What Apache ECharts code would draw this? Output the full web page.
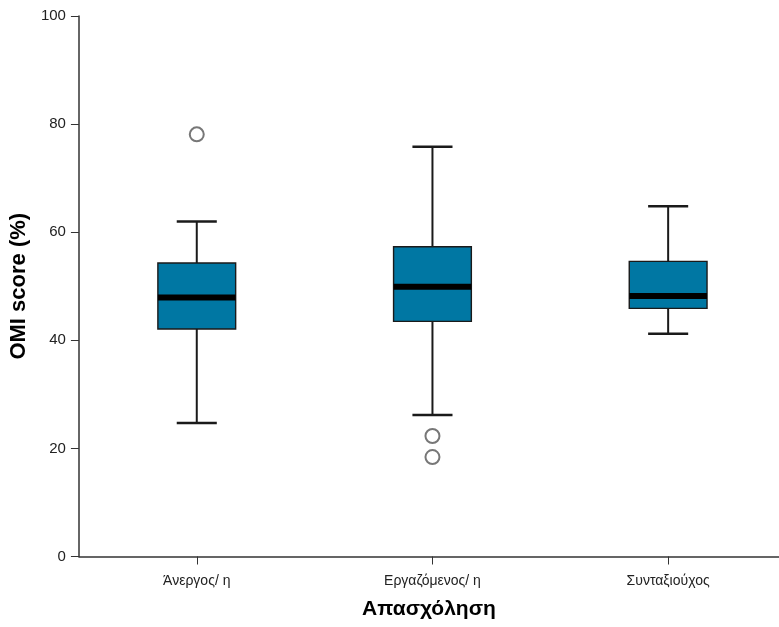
<!DOCTYPE html>
<html>
<head>
<meta charset="utf-8">
<script src="https://cdn.jsdelivr.net/npm/echarts@6/dist/echarts.min.js"></script>
<style>html,body{margin:0;padding:0;background:#fff}#c{width:779px;height:627px}</style>
</head>
<body>
<div id="c"></div>
<script>
const categories = ['Άνεργος/ η', 'Εργαζόμενος/ η', 'Συνταξιούχος'];
const categoryPositions = [1, 2, 3];
const whiskerLow = [24.7, 26.2, 41.2];
const q1 = [42.1, 43.5, 45.9];
const median = [47.9, 49.9, 48.2];
const q3 = [54.3, 57.3, 54.6];
const whiskerHigh = [62.0, 75.8, 64.8];
const outliers = [[1, 78.1], [2, 22.3], [2, 18.4]];
const yTicks = [0, 20, 40, 60, 80, 100];

const boxData = categories.map((c, i) => [categoryPositions[i], whiskerLow[i], q1[i], median[i], q3[i], whiskerHigh[i]]);

const chart = echarts.init(document.getElementById('c'), null, {renderer: 'canvas'});
const lineColor = '#1a1a1a';
const font = 'Liberation Sans, Arial, sans-serif';

function renderBox(params, api) {
  const x = api.value(0);
  const lo = api.coord([x, api.value(1)]);
  const b1 = api.coord([x, api.value(2)]);
  const md = api.coord([x, api.value(3)]);
  const b3 = api.coord([x, api.value(4)]);
  const hi = api.coord([x, api.value(5)]);
  const band = api.size([1, 0])[0];
  const w = band * 0.33;
  const cw = band * 0.17;
  const cx = lo[0];
  return {
    type: 'group',
    children: [
      {type: 'line', shape: {x1: cx, y1: hi[1], x2: cx, y2: b3[1]}, style: {stroke: lineColor, lineWidth: 2}},
      {type: 'line', shape: {x1: cx, y1: b1[1], x2: cx, y2: lo[1]}, style: {stroke: lineColor, lineWidth: 2}},
      {type: 'line', shape: {x1: cx - cw / 2, y1: hi[1], x2: cx + cw / 2, y2: hi[1]}, style: {stroke: lineColor, lineWidth: 2.5}},
      {type: 'line', shape: {x1: cx - cw / 2, y1: lo[1], x2: cx + cw / 2, y2: lo[1]}, style: {stroke: lineColor, lineWidth: 2.5}},
      {type: 'rect', shape: {x: cx - w / 2, y: b3[1], width: w, height: b1[1] - b3[1]}, style: {fill: '#0077A3', stroke: lineColor, lineWidth: 1.4}},
      {type: 'line', shape: {x1: cx - w / 2, y1: md[1], x2: cx + w / 2, y2: md[1]}, style: {stroke: '#000', lineWidth: 6}}
    ]
  };
}

chart.setOption({
  animation: false,
  backgroundColor: '#fff',
  grid: {left: 78, right: 0, top: 16, bottom: 70.5, containLabel: false},
  xAxis: {
    type: 'value',
    min: 0.5,
    max: 0.5 + 701 / 236,
    name: 'Απασχόληση',
    nameLocation: 'middle',
    nameGap: 42,
    nameTextStyle: {fontFamily: font, fontWeight: 'bold', fontSize: 21, color: '#000'},
    axisLine: {show: true, onZero: false, lineStyle: {color: '#333', width: 1.5}},
    axisTick: {show: true, length: 8, customValues: categoryPositions, lineStyle: {color: '#333'}},
    axisLabel: {
      customValues: categoryPositions,
      formatter: v => categories[Math.round(v) - 1],
      fontFamily: font, fontSize: 14, color: '#222', margin: 18
    },
    splitLine: {show: false}
  },
  yAxis: {
    type: 'value',
    min: yTicks[0],
    max: yTicks[yTicks.length - 1],
    interval: 20,
    name: 'OMI score (%)',
    nameLocation: 'middle',
    nameGap: 45,
    nameRotate: 90,
    nameTextStyle: {fontFamily: font, fontWeight: 'bold', fontSize: 22, color: '#000'},
    axisLine: {show: true, lineStyle: {color: '#333', width: 1.5}},
    axisTick: {show: true, length: 8, lineStyle: {color: '#333'}},
    axisLabel: {fontFamily: font, fontSize: 15, color: '#222', margin: 13},
    splitLine: {show: false}
  },
  series: [
    {
      type: 'custom',
      renderItem: renderBox,
      encode: {x: 0, y: [1, 2, 3, 4, 5]},
      data: boxData,
      z: 2
    },
    {
      type: 'scatter',
      data: outliers,
      symbol: 'circle',
      symbolSize: 14,
      itemStyle: {color: '#fff', borderColor: '#555', borderWidth: 2},
      z: 3
    }
  ]
});
</script>
</body>
</html>
